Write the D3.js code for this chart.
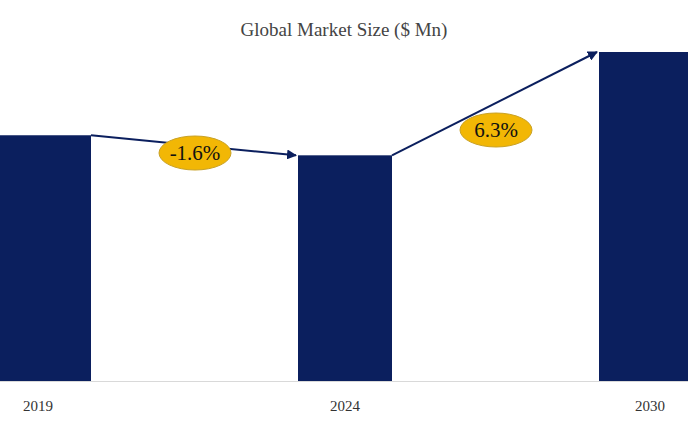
<!DOCTYPE html>
<html><head><meta charset="utf-8">
<script src="https://cdn.jsdelivr.net/npm/d3@7"></script>
<style>body{margin:0;background:#fff}</style></head>
<body><svg id="c" width="688" height="424"></svg>
<script>
const years = ["2019","2024","2030"];
const values = [1225, 1125, 1640];
const cagrLabels = ["-1.6%","6.3%"];

const svg = d3.select("#c");
const x = d3.scalePoint().domain(years).range([44, 646]);
const bw = 94;
const y = d3.scaleLinear().domain([0, 1640]).range([381, 52]);
const navy = "#0B1F5E";

svg.append("text").attr("x", 344).attr("y", 36).attr("text-anchor","middle")
  .attr("font-family","Liberation Serif").attr("font-size",19).attr("fill","#444")
  .text("Global Market Size ($ Mn)");

svg.selectAll("rect.bar").data(years).enter().append("rect")
  .attr("x", d => x(d) - bw/2).attr("width", bw)
  .attr("y", (d,i) => y(values[i])).attr("height", (d,i) => y(0) - y(values[i]))
  .attr("fill", navy);

svg.append("line").attr("x1",0).attr("x2",688).attr("y1",381.5).attr("y2",381.5).attr("stroke","#d9d9d9");

svg.selectAll("text.lab").data(years).enter().append("text")
  .attr("x", (d,i) => x(d) + [-6,0,4][i]).attr("y", 411).attr("text-anchor","middle")
  .attr("font-family","Liberation Serif").attr("font-size",15).attr("fill","#333").text(d=>d);

svg.append("defs").append("marker").attr("id","ah").attr("viewBox","0 0 10 10")
  .attr("refX",9).attr("refY",5).attr("markerWidth",5).attr("markerHeight",5).attr("orient","auto")
  .append("path").attr("d","M0,0L10,5L0,10z").attr("fill",navy);

const pos = [[195,153],[496,130]];
for (let i=0;i<2;i++){
  const x1 = x(years[i]) + bw/2, y1 = y(values[i]);
  const x2 = x(years[i+1]) - bw/2 - 2, y2 = y(values[i+1]);
  svg.append("line").attr("x1",x1).attr("y1",y1).attr("x2",x2).attr("y2",y2)
    .attr("stroke",navy).attr("stroke-width",2).attr("marker-end","url(#ah)");
  svg.append("ellipse").attr("cx",pos[i][0]).attr("cy",pos[i][1]).attr("rx",36).attr("ry",17)
    .attr("fill","#F2B705").attr("stroke","#C9A227");
  svg.append("text").attr("x",pos[i][0]).attr("y",pos[i][1]+7).attr("text-anchor","middle")
    .attr("font-family","Liberation Serif").attr("font-size",21).attr("fill","#111").text(cagrLabels[i]);
}
</script></body></html>
